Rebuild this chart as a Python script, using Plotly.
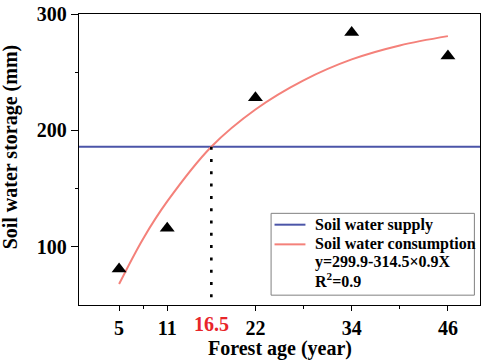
import plotly.graph_objects as go

# ---- data ----
forest_age = [5, 11, 22, 34, 46]
storage = [81, 116, 228, 284, 264]

supply_level = 186
supply_x = [0, 50]

curve_x = [5, 8, 11, 16.5, 22, 28, 34, 40, 46]
curve_y = [68, 107, 139, 186, 218, 243, 261, 273, 281]

cross_age = 16.5
x_tickvals = [5, 11, 22, 34, 46]
x_minor = [8, 28, 40]
y_tickvals = [100, 200, 300]
y_minor = [150, 250]

legend_labels = ["Soil water supply", "Soil water consumption"]
equation_text = "y=299.9-314.5×0.9X"
r2_text = "R<sup>2</sup>=0.9"

BLUE = "#4b55a8"
RED = "#f4817a"
FONT = "Liberation Serif"

fig = go.Figure()

fig.add_trace(go.Scatter(x=supply_x, y=[supply_level, supply_level], mode="lines",
                         line=dict(color=BLUE, width=2), showlegend=False))
fig.add_trace(go.Scatter(x=curve_x, y=curve_y, mode="lines", line_shape="spline",
                         line=dict(color=RED, width=2), showlegend=False))
fig.add_trace(go.Scatter(x=[cross_age, cross_age], y=[supply_level, 50], mode="lines",
                         line=dict(color="black", width=2.6, dash="3px,9.3px"),
                         showlegend=False))
fig.add_trace(go.Scatter(x=forest_age, y=storage, mode="markers",
                         marker=dict(symbol="triangle-up", size=13, color="black"),
                         showlegend=False))

axis_common = dict(showgrid=False, zeroline=False, showline=True, linecolor="black",
                   linewidth=1.3, mirror=True, ticks="outside", tickcolor="black",
                   tickwidth=1.3, ticklabeloverflow="allow",
                   tickfont=dict(family=FONT, size=20, color="black", weight="bold"))

fig.update_xaxes(range=[0, 50], tickmode="array", tickvals=x_tickvals, ticklen=5,
                 minor=dict(tickmode="array", tickvals=x_minor, ticklen=3,
                            tickcolor="black", tickwidth=1.3, ticks="outside"),
                 **axis_common)
fig.update_yaxes(range=[50, 300], tickmode="array", tickvals=y_tickvals, ticklen=7,
                 minor=dict(tickmode="array", tickvals=y_minor, ticklen=3,
                            tickcolor="black", tickwidth=1.3, ticks="outside"),
                 **axis_common)

# red label for crossing age
fig.add_annotation(x=cross_age, xref="x", y=-0.065, yref="paper", text=str(cross_age),
                   showarrow=False, xanchor="center", yanchor="middle",
                   font=dict(family=FONT, size=20, color="#e8262a", weight="bold"))

# axis titles
fig.add_annotation(x=0.5, xref="paper", y=-0.1486, yref="paper", text="Forest age (year)",
                   showarrow=False, xanchor="center", yanchor="middle",
                   font=dict(family=FONT, size=20, color="black", weight="bold"))
fig.add_annotation(x=-0.1704, xref="paper", y=0.544, yref="paper",
                   text="Soil water storage (mm)", textangle=-90,
                   showarrow=False, xanchor="center", yanchor="middle",
                   font=dict(family=FONT, size=20, color="black", weight="bold"))

# legend box (manual)
fig.add_shape(type="rect", xref="paper", yref="paper", x0=0.479, x1=0.986, y0=0.0338,
              y1=0.315, line=dict(color="#808080", width=1), fillcolor="white", layer="below")
rows = [0.276, 0.2084, 0.1463, 0.0845]
for yy, col in zip(rows[:2], [BLUE, RED]):
    fig.add_shape(type="line", xref="paper", yref="paper", x0=0.4876, x1=0.5647,
                  y0=yy, y1=yy, line=dict(color=col, width=2))
for yy, txt in zip(rows, legend_labels + [equation_text, r2_text]):
    fig.add_annotation(x=0.583, xref="paper", y=yy, yref="paper", text=txt,
                       showarrow=False, xanchor="left", yanchor="middle",
                       font=dict(family=FONT, size=16, color="black", weight="bold"))

fig.update_layout(width=484, height=364, autosize=False,
                  margin=dict(l=79, r=3, t=9, b=59),
                  plot_bgcolor="white", paper_bgcolor="white", showlegend=False)

fig.write_html("out.html", config={"displayModeBar": False},
               post_script="document.body.style.margin='0';document.body.style.overflow='hidden';")
